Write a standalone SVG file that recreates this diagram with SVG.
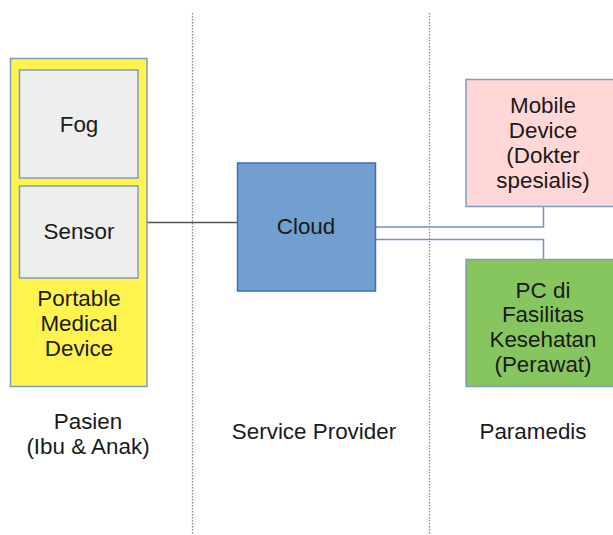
<svg xmlns="http://www.w3.org/2000/svg" width="613" height="535" viewBox="0 0 613 535">
  <style>
    text { font-family: "Liberation Sans", Arial, sans-serif; font-size: 22.4px; fill: #1a1a1a; text-anchor: middle; }
    .lane { stroke: #8a8a8a; stroke-width: 1.3; stroke-dasharray: 1.5 1.5; fill: none; }
    .box { stroke: #7f9cc0; stroke-width: 1.5; }
    .link { stroke: #7094c4; stroke-width: 1.5; fill: none; }
  </style>
  <rect width="613" height="535" fill="#ffffff"/>

  <!-- lane separators -->
  <g id="lanes">
    <line class="lane" x1="192.5" y1="13" x2="192.5" y2="535"/>
    <line class="lane" x1="429.5" y1="13" x2="429.5" y2="535"/>
  </g>

  <!-- connectors -->
  <g id="connectors">
    <line x1="147" y1="222.5" x2="238" y2="222.5" stroke="#555555" stroke-width="1.5"/>
    <polyline class="link" points="375.5,227 543.5,227 543.5,206.5"/>
    <polyline class="link" points="375.5,239.5 543.5,239.5 543.5,259.5"/>
  </g>

  <g id="portable-medical-device">
    <rect class="box" x="10.5" y="58.5" width="136.5" height="328" fill="#fff34d"/>
    <text x="79" y="306">Portable</text>
    <text x="79" y="331">Medical</text>
    <text x="79" y="356">Device</text>
  </g>

  <g id="fog">
    <rect class="box" x="19.5" y="70" width="118.5" height="108" fill="#eeeeee"/>
    <text x="79" y="132">Fog</text>
  </g>

  <g id="sensor">
    <rect class="box" x="19.5" y="186" width="118.5" height="92" fill="#eeeeee"/>
    <text x="79" y="239">Sensor</text>
  </g>

  <g id="cloud">
    <rect x="237.5" y="163" width="138" height="128" fill="#729fcf" stroke="#3f6fae" stroke-width="1.5"/>
    <text x="306" y="234">Cloud</text>
  </g>

  <g id="mobile-device">
    <rect class="box" x="466" y="79.5" width="154" height="127" fill="#ffd7d7"/>
    <text x="543" y="113">Mobile</text>
    <text x="543" y="138">Device</text>
    <text x="543" y="163">(Dokter</text>
    <text x="543" y="188">spesialis)</text>
  </g>

  <g id="pc-fasilitas">
    <rect class="box" x="466" y="259.5" width="154" height="127" fill="#87c65f"/>
    <text x="543" y="298">PC di</text>
    <text x="543" y="322">Fasilitas</text>
    <text x="543" y="347">Kesehatan</text>
    <text x="543" y="372">(Perawat)</text>
  </g>

  <!-- lane titles -->
  <g id="lane-labels">
    <text x="88" y="429">Pasien</text>
    <text x="88" y="454">(Ibu &amp; Anak)</text>
    <text x="314" y="439">Service Provider</text>
    <text x="533" y="439">Paramedis</text>
  </g>
</svg>
